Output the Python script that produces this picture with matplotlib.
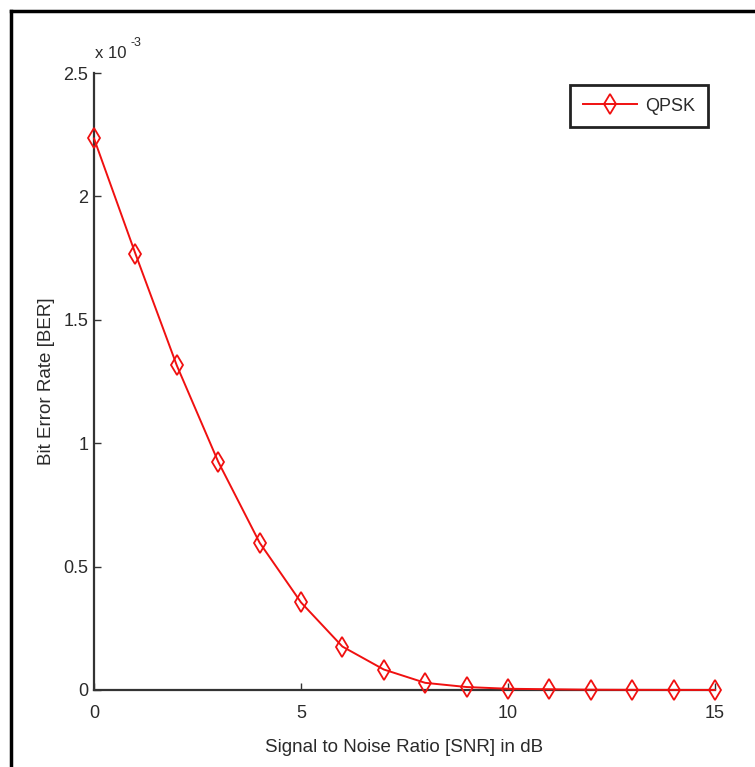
#!/usr/bin/env python3
"""
BER curve of QPSK over SNR, drawn in the old MATLAB look
"""

import matplotlib
matplotlib.use('Agg')
import matplotlib.pyplot as plt
from matplotlib.lines import Line2D
from matplotlib.ticker import FuncFormatter, MultipleLocator

# SNR points in dB and the bit error rate
snr_db = [0, 1, 2, 3, 4, 5, 6, 7, 8, 9, 10, 11, 12, 13, 14, 15]
ber = [2.235e-3, 1.768e-3, 1.315e-3, 0.925e-3, 0.597e-3, 0.355e-3,
       0.176e-3, 0.083e-3, 0.029e-3, 0.012e-3, 0.005e-3, 0.003e-3,
       0.0012e-3, 0.0006e-3, 0.0003e-3, 0.0001e-3]
legend_labels = ['QPSK']

plt.rcParams['font.family'] = ['Liberation Sans', 'DejaVu Sans']
text_col = '#2a2a2a'
fs = 13

fig = plt.figure(figsize=(7.55, 7.67), dpi=100)
ax = fig.add_axes([0.1245, 0.1004, 0.8225, 0.8044])

ax.plot(snr_db, ber, color='#f01010', linewidth=1.4, marker='d',
        markersize=10.5, markerfacecolor='none', markeredgecolor='#f01010',
        markeredgewidth=1.3, label=legend_labels[0], clip_on=False, zorder=3)

ax.set_xlim(0, 15)
ax.set_ylim(0, 2.5e-3)
ax.xaxis.set_major_locator(MultipleLocator(5))
ax.yaxis.set_major_locator(MultipleLocator(0.5e-3))
ax.yaxis.set_major_formatter(FuncFormatter(lambda v, p: '%g' % round(v / 1e-3, 3)))

for side in ('top', 'right'):
    ax.spines[side].set_visible(False)
for side in ('left', 'bottom'):
    ax.spines[side].set_color('#333333')
    ax.spines[side].set_linewidth(1.6)
ax.tick_params(direction='in', length=5, width=1, colors='#333333',
               labelcolor=text_col, labelsize=fs)
ax.tick_params(axis='x', pad=11)
ax.tick_params(axis='y', pad=4)

# exponent written the MATLAB way, with a plain hyphen
ax.annotate('x 10', xy=(0, 1), xycoords='axes fraction', xytext=(1, 9),
            textcoords='offset points', fontsize=fs - 1, color=text_col,
            ha='left', va='bottom')
ax.annotate('-3', xy=(0, 1), xycoords='axes fraction', xytext=(26, 17),
            textcoords='offset points', fontsize=fs - 4, color=text_col,
            ha='left', va='bottom')

ax.set_xlabel('Signal to Noise Ratio [SNR] in dB', fontsize=fs + 0.5,
              color=text_col, labelpad=12)
ax.set_ylabel('Bit Error Rate [BER]', fontsize=fs + 0.5, color=text_col,
              labelpad=6)

leg = ax.legend(loc='upper right', bbox_to_anchor=(0.9887, 0.9805),
                borderaxespad=0, fontsize=fs, handlelength=3.0,
                handletextpad=0.45, borderpad=0.7, fancybox=False,
                framealpha=1)
leg.get_frame().set_edgecolor('#222222')
leg.get_frame().set_linewidth(2)
for t in leg.get_texts():
    t.set_color(text_col)

# outer frame of the original page, only its top and left edges are in view
fig.add_artist(Line2D([11 / 755, 11 / 755], [0, 1 - 11 / 767],
                      transform=fig.transFigure, color='black', linewidth=2.5))
fig.add_artist(Line2D([11 / 755, 1], [1 - 11 / 767, 1 - 11 / 767],
                      transform=fig.transFigure, color='black', linewidth=2.5))

fig.savefig('out.png', dpi=100)
